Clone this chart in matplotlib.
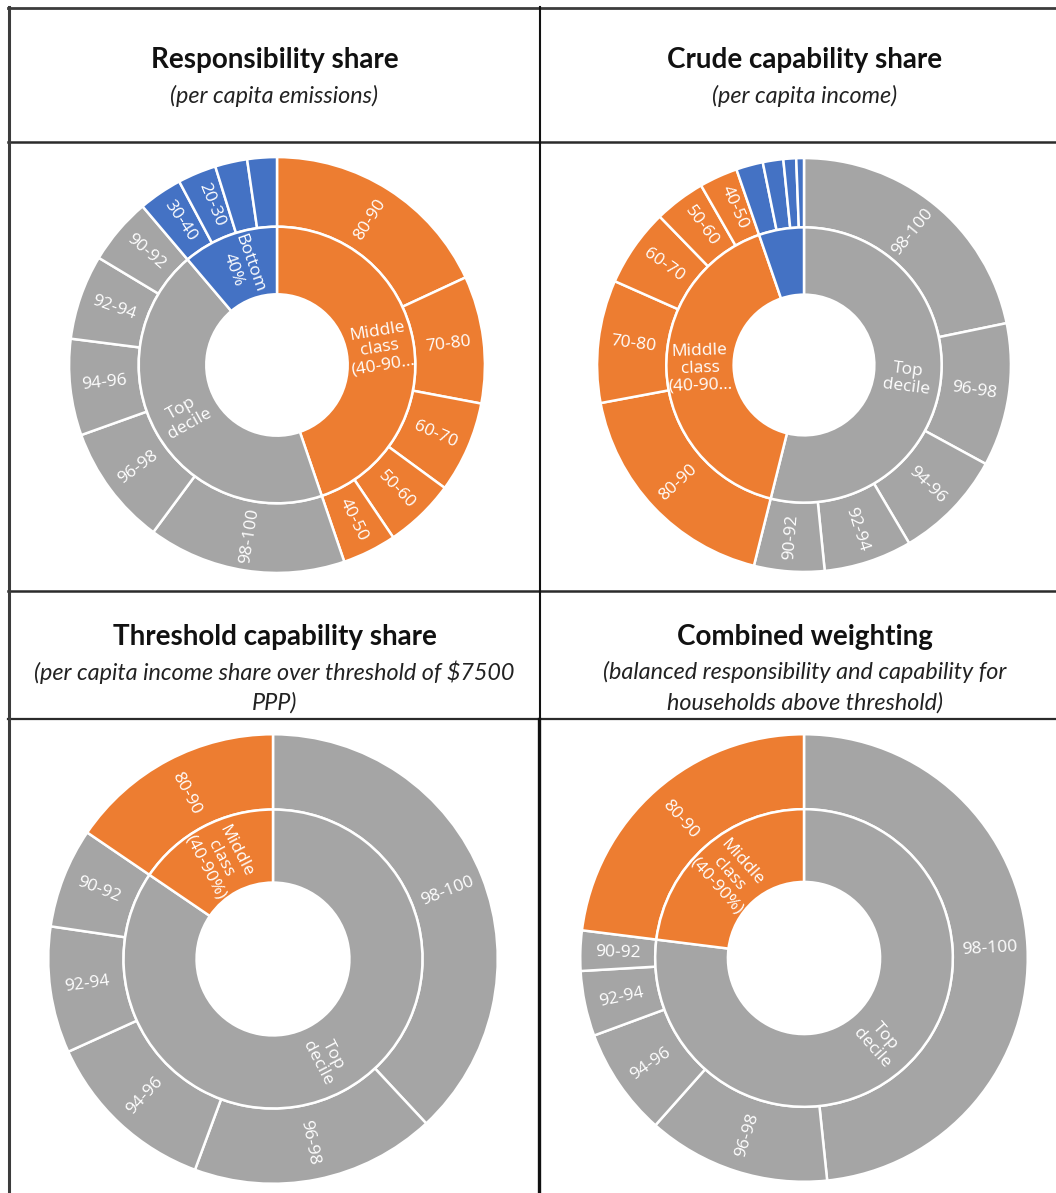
import numpy as np
import matplotlib
matplotlib.use("Agg")
import matplotlib.pyplot as plt
from matplotlib.lines import Line2D

W, H = 1056, 1193

ORANGE = "#ED7D31"
GREY = "#A5A5A5"
BLUE = "#4472C4"

# decile bands, in the order they run clockwise inside each group
deciles_mid = ["80-90", "70-80", "60-70", "50-60", "40-50"]
deciles_top = ["98-100", "96-98", "94-96", "92-94", "90-92"]
deciles_bottom = ["30-40", "20-30", "10-20", "0-10"]

# shares in percent
resp_mid = [18.1, 9.9, 7.1, 5.5, 4.2]
resp_top = [15.4, 9.4, 7.5, 6.6, 5.2]
resp_bottom = [3.4, 3.0, 2.5, 2.3]

crude_top = [21.8, 11.2, 8.6, 6.9, 5.5]
crude_mid = [18.2, 9.6, 6.1, 4.0, 3.0]
crude_bottom = [2.1, 1.6, 1.0, 0.6]

thresh_top = [38.1, 17.6, 12.6, 9.1, 7.2]
thresh_mid = [15.5, 0, 0, 0, 0]

combined_top = [48.3, 13.2, 7.8, 4.7, 2.9]
combined_mid = [23.0, 0, 0, 0, 0]

mid_name_short = "Middle\nclass\n(40-90..."
mid_name_full = "Middle\nclass\n(40-90%)"
top_name = "Top\ndecile"
bottom_name = "Bottom\n40%"

titles = ["Responsibility share", "Crude capability share",
          "Threshold capability share", "Combined weighting"]
subtitles = [["(per capita emissions)"], ["(per capita income)"],
             ["(per capita income share over threshold of $7500", "PPP)"],
             ["(balanced responsibility and capability for",
              "households above threshold)"]]

LABEL_FONT = ["Open Sans", "DejaVu Sans"]
HEAD_FONT = ["Lato", "DejaVu Sans"]

HOLE = 0.34
SPLIT = 0.665


def px_axes(fig, cx, cy, r):
    return fig.add_axes([(cx - r) / W, 1 - (cy + r) / H, 2 * r / W, 2 * r / H])


def ring_labels(ax, values, labels, r0, r1, min_share, size):
    total = 100.0
    start = 0.0
    for v, lab in zip(values, labels):
        span = v / total * 360
        mid = start + span / 2
        start += span
        if v <= 0 or v < min_share or not lab:
            continue
        th = np.radians(mid)
        r = (r0 + r1) / 2
        rot = 90 - mid
        while rot <= -90:
            rot += 180
        while rot > 90:
            rot -= 180
        ax.text(r * np.sin(th), r * np.cos(th), lab, rotation=rot,
                rotation_mode="anchor", ha="center", va="center",
                color="white", fontsize=size, family=LABEL_FONT,
                linespacing=1.1)


def sunburst(fig, cx, cy, r, groups):
    # groups: list of (group label, colour, decile names, values)
    ax = px_axes(fig, cx, cy, r)
    outer_vals, outer_cols, outer_labs = [], [], []
    inner_vals, inner_cols, inner_labs = [], [], []
    for name, col, names, vals in groups:
        for n, v in zip(names, vals):
            if v > 0:
                outer_vals.append(v)
                outer_cols.append(col)
                outer_labs.append(n)
        inner_vals.append(sum(vals))
        inner_cols.append(col)
        inner_labs.append(name)
    wp = dict(edgecolor="white", linewidth=1.8)
    ax.pie(outer_vals, radius=1.0, startangle=90, counterclock=False,
           colors=outer_cols, wedgeprops=dict(width=1.0 - SPLIT, **wp))
    ax.pie(inner_vals, radius=SPLIT, startangle=90, counterclock=False,
           colors=inner_cols, wedgeprops=dict(width=SPLIT - HOLE, **wp))
    ax.set_xlim(-1.01, 1.01)
    ax.set_ylim(-1.01, 1.01)
    ax.set_aspect("equal")
    ax.axis("off")
    ring_labels(ax, outer_vals, outer_labs, SPLIT, 1.0, 2.8, 12.5)
    ring_labels(ax, inner_vals, inner_labs, HOLE, SPLIT, 8.0, 12.5)
    return ax


fig = plt.figure(figsize=(W / 100, H / 100), dpi=100)
fig.patch.set_facecolor("white")


def hline(y, x0, x1, lw=1.6, color="#2b2b2b"):
    fig.add_artist(Line2D([x0 / W, x1 / W], [1 - y / H, 1 - y / H],
                          transform=fig.transFigure, color=color, lw=lw))


def vline(x, y0, y1, lw=1.6, color="#111111"):
    fig.add_artist(Line2D([x / W, x / W], [1 - y0 / H, 1 - y1 / H],
                          transform=fig.transFigure, color=color, lw=lw))


# table grid
hline(8, 8, W, lw=2.0, color="#3c3c3c")
hline(142, 8, W, lw=1.8)
hline(590.5, 8, W, lw=1.8)
hline(719, 8, W, lw=1.6)
vline(9, 7, H, lw=2.2, color="#3c3c3c")
vline(540, 7, 719, lw=1.5)
vline(538.5, 719, H, lw=2.4)

# header cells
head_x = [274.5, 805, 274.5, 805]
head_y = [60, 637]
sub_y = [96, 672]
for i in range(4):
    row = i // 2
    fig.text(head_x[i] / W, 1 - head_y[row] / H, titles[i], ha="center",
             va="center", fontsize=20, fontweight="bold", family=HEAD_FONT,
             color="#111111")
    for k, line in enumerate(subtitles[i]):
        fig.text(head_x[i] / W, 1 - (sub_y[row] + 31 * k) / H, line,
                 ha="center", va="center", fontsize=16.8, style="italic",
                 family=HEAD_FONT, color="#222222")

sunburst(fig, 277, 365, 210, [
    (mid_name_short, ORANGE, deciles_mid, resp_mid),
    (top_name, GREY, deciles_top, resp_top),
    (bottom_name, BLUE, deciles_bottom, resp_bottom),
])
sunburst(fig, 804, 365, 209, [
    (top_name, GREY, deciles_top, crude_top),
    (mid_name_short, ORANGE, deciles_mid, crude_mid),
    ("", BLUE, deciles_bottom, crude_bottom),
])
sunburst(fig, 273, 959, 227, [
    (top_name, GREY, deciles_top, thresh_top),
    (mid_name_full, ORANGE, deciles_mid, thresh_mid),
])
sunburst(fig, 804, 958, 226, [
    (top_name, GREY, deciles_top, combined_top),
    (mid_name_full, ORANGE, deciles_mid, combined_mid),
])

fig.savefig("out.png", dpi=100)
